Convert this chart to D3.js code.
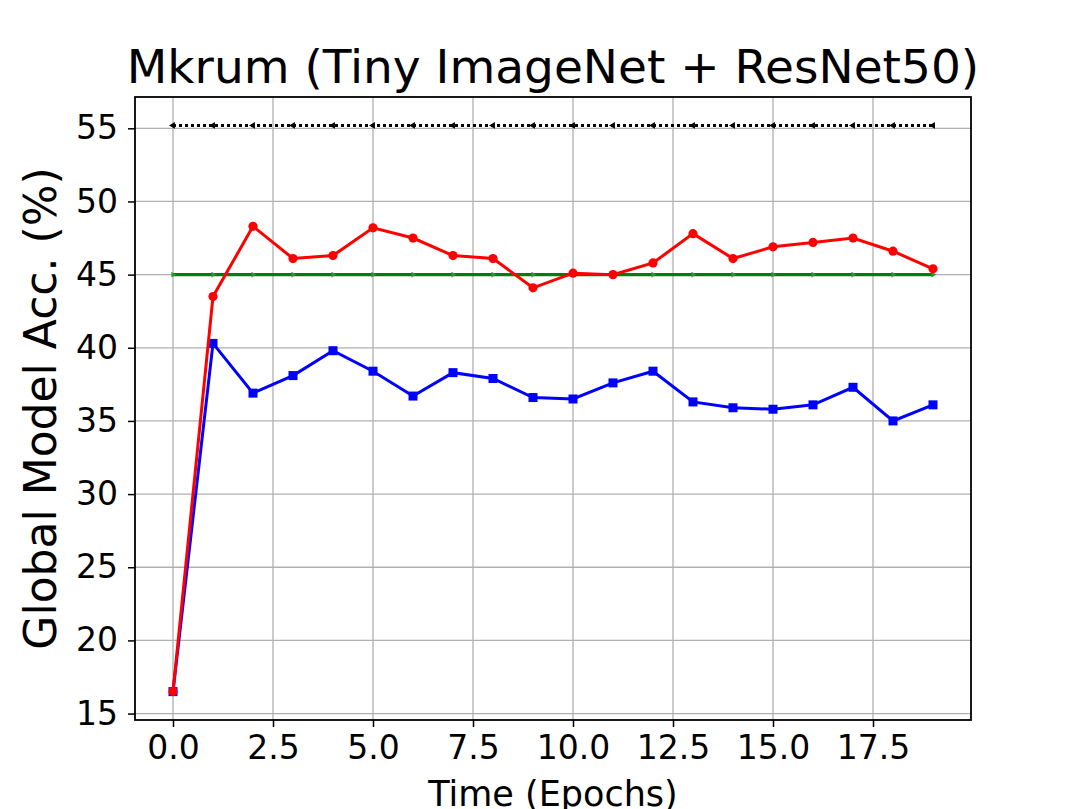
<!DOCTYPE html>
<html>
<head>
<meta charset="utf-8">
<script src="https://cdn.jsdelivr.net/npm/d3@7"></script>
<style>
  body { margin: 0; background: #fff; }
  text { font-family: "DejaVu Sans", sans-serif; fill: #000; }
</style>
</head>
<body>
<div id="chart"></div>
<script>
// values
var epochs = [0, 1, 2, 3, 4, 5, 6, 7, 8, 9, 10, 11, 12, 13, 14, 15, 16, 17, 18, 19]
var redAcc = [16.5, 43.5, 48.3, 46.1, 46.3, 48.2, 47.5, 46.3, 46.1, 44.1, 45.1, 45.0, 45.8, 47.8, 46.1, 46.9, 47.2, 47.5, 46.6, 45.4]
var blueAcc = [16.5, 40.3, 36.9, 38.1, 39.8, 38.4, 36.7, 38.3, 37.9, 36.6, 36.5, 37.6, 38.4, 36.3, 35.9, 35.8, 36.1, 37.3, 35.0, 36.1]
var blackAcc = [55.2, 55.2, 55.2, 55.2, 55.2, 55.2, 55.2, 55.2, 55.2, 55.2, 55.2, 55.2, 55.2, 55.2, 55.2, 55.2, 55.2, 55.2, 55.2, 55.2]
var greenAcc = [45.0, 45.0, 45.0, 45.0, 45.0, 45.0, 45.0, 45.0, 45.0, 45.0, 45.0, 45.0, 45.0, 45.0, 45.0, 45.0, 45.0, 45.0, 45.0, 45.0]
var xTicks = [0, 2.5, 5, 7.5, 10, 12.5, 15, 17.5]
var yTicks = [15, 20, 25, 30, 35, 40, 45, 50, 55]

var w = 1079
var h = 809
// plot box (window.top is taken, so prefixed names)
var plot_left = 135, plot_right = 971, plot_top = 97, plot_bottom = 720

var svg = d3.select("#chart").append("svg")
  .attr("width", w)
  .attr("height", h)

// matplotlib-like 5% padding around the data
var x = d3.scaleLinear().domain([-0.95, 19.95]).range([plot_left, plot_right])
var y = d3.scaleLinear().domain([14.56, 57.14]).range([plot_bottom, plot_top])

// grid
svg.append("g").selectAll("line")
  .data(xTicks).enter().append("line")
  .attr("x1", function(d){ return x(d) }).attr("x2", function(d){ return x(d) })
  .attr("y1", plot_top).attr("y2", plot_bottom)
  .attr("stroke", "#b0b0b0").attr("stroke-width", 1.3)

svg.append("g").selectAll("line")
  .data(yTicks).enter().append("line")
  .attr("x1", plot_left).attr("x2", plot_right)
  .attr("y1", function(d){ return y(d) }).attr("y2", function(d){ return y(d) })
  .attr("stroke", "#b0b0b0").attr("stroke-width", 1.3)

var line = function(vals) {
  return d3.line()
    .x(function(d, i){ return x(epochs[i]) })
    .y(function(d){ return y(d) })(vals)
}

// black dotted line with small left triangles
svg.append("path")
  .attr("d", line(blackAcc))
  .attr("fill", "none").attr("stroke", "#000")
  .attr("stroke-width", 3).attr("stroke-dasharray", "3,3")
svg.append("g").selectAll("path")
  .data(blackAcc).enter().append("path")
  .attr("d", d3.symbol().type(d3.symbolTriangle).size(20))
  .attr("transform", function(d, i){ return "translate(" + x(epochs[i]) + "," + y(d) + ") rotate(-90)" })
  .attr("fill", "#000")

// green solid line with tiny right triangles
svg.append("path")
  .attr("d", line(greenAcc))
  .attr("fill", "none").attr("stroke", "#008000").attr("stroke-width", 3.3)
svg.append("g").selectAll("path")
  .data(greenAcc).enter().append("path")
  .attr("d", d3.symbol().type(d3.symbolTriangle).size(14))
  .attr("transform", function(d, i){ return "translate(" + x(epochs[i]) + "," + y(d) + ") rotate(90)" })
  .attr("fill", "#2a9a2a")

// blue squares
svg.append("path")
  .attr("d", line(blueAcc))
  .attr("fill", "none").attr("stroke", "#0000ff").attr("stroke-width", 3)
svg.append("g").selectAll("rect")
  .data(blueAcc).enter().append("rect")
  .attr("x", function(d, i){ return x(epochs[i]) - 4.5 })
  .attr("y", function(d){ return y(d) - 4.5 })
  .attr("width", 9).attr("height", 9)
  .attr("fill", "#0000ff")

// red circles
svg.append("path")
  .attr("d", line(redAcc))
  .attr("fill", "none").attr("stroke", "#ff0000").attr("stroke-width", 3)
svg.append("g").selectAll("circle")
  .data(redAcc).enter().append("circle")
  .attr("cx", function(d, i){ return x(epochs[i]) })
  .attr("cy", function(d){ return y(d) })
  .attr("r", 4.6)
  .attr("fill", "#ff0000")

// axes
var xAxis = d3.axisBottom(x).tickValues(xTicks).tickSize(7).tickPadding(9)
  .tickFormat(d3.format(".1f"))
var yAxis = d3.axisLeft(y).tickValues(yTicks).tickSize(7).tickPadding(10)
  .tickFormat(d3.format("d"))

var gx = svg.append("g").attr("transform", "translate(0," + plot_bottom + ")").call(xAxis)
var gy = svg.append("g").attr("transform", "translate(" + plot_left + ",0)").call(yAxis)
gx.select(".domain").remove()
gy.select(".domain").remove()
gx.selectAll("line").attr("stroke", "#000").attr("stroke-width", 1.5)
gy.selectAll("line").attr("stroke", "#000").attr("stroke-width", 1.5)
gx.selectAll("text").attr("font-size", 33).attr("font-family", "DejaVu Sans").attr("fill", "#000")
gy.selectAll("text").attr("font-size", 33).attr("font-family", "DejaVu Sans").attr("fill", "#000")

// frame
svg.append("rect")
  .attr("x", plot_left).attr("y", plot_top)
  .attr("width", plot_right - plot_left).attr("height", plot_bottom - plot_top)
  .attr("fill", "none").attr("stroke", "#000").attr("stroke-width", 1.8)

// labels
svg.append("text")
  .attr("x", (plot_left + plot_right) / 2).attr("y", 83)
  .attr("text-anchor", "middle").attr("font-size", 47)
  .text("Mkrum (Tiny ImageNet + ResNet50)")

svg.append("text")
  .attr("transform", "translate(56," + (plot_top + plot_bottom) / 2 + ") rotate(-90)")
  .attr("text-anchor", "middle").attr("font-size", 44)
  .text("Global Model Acc. (%)")

// reference cuts this label at the bottom edge too
svg.append("text")
  .attr("x", (plot_left + plot_right) / 2).attr("y", 806)
  .attr("text-anchor", "middle").attr("font-size", 35)
  .text("Time (Epochs)")
</script>
</body>
</html>
